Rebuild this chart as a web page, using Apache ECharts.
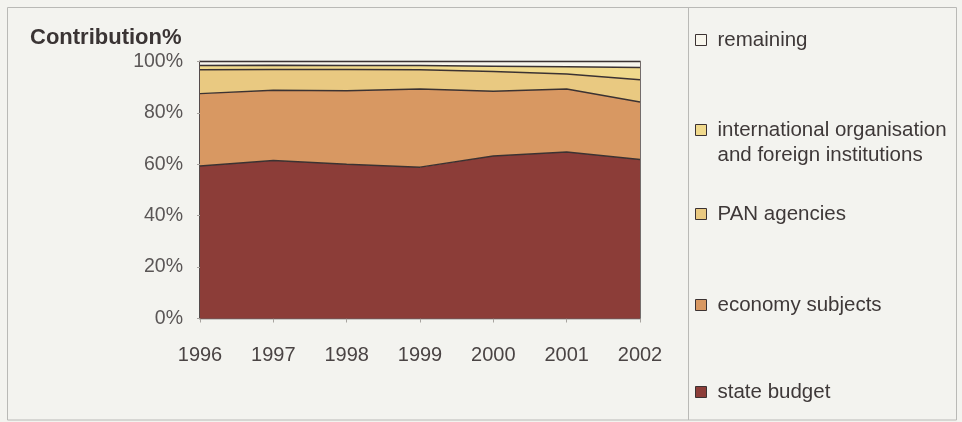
<!DOCTYPE html>
<html>
<head>
<meta charset="utf-8">
<script src="https://cdn.jsdelivr.net/npm/echarts@6/dist/echarts.min.js"></script>
<style>
  html, body { margin: 0; padding: 0; background: #f3f3ef; }
  #chart { width: 962px; height: 422px; }
</style>
</head>
<body>
<div id="chart"></div>
<script>
// Funding structure by source, share of total (%)
const years = ['1996', '1997', '1998', '1999', '2000', '2001', '2002'];
const stateBudget = [59.3, 61.5, 60.0, 58.9, 63.2, 64.8, 61.9];
const economySubjects = [28.2, 27.3, 28.6, 30.4, 25.2, 24.5, 22.3];
const panAgencies = [9.3, 8.1, 8.3, 7.5, 7.7, 5.8, 8.7];
const internationalOrg = [1.6, 1.6, 1.5, 1.6, 2.1, 2.9, 4.8];
const remaining = [1.6, 1.5, 1.6, 1.6, 1.8, 2.0, 2.3];
const yTicks = [0, 20, 40, 60, 80, 100];

const FONT = '"Liberation Sans", Arial, sans-serif';
const EDGE = '#3b3232';
const INTL = 'international organisation and foreign institutions';

const colors = {
  'state budget': '#8c3d38',
  'economy subjects': '#d89862',
  'PAN agencies': '#e9c981',
  [INTL]: '#f0d98c',
  'remaining': '#f7f5ec'
};

const layers = [
  ['state budget', stateBudget],
  ['economy subjects', economySubjects],
  ['PAN agencies', panAgencies],
  [INTL, internationalOrg],
  ['remaining', remaining]
];

const series = layers.map(([name, data]) => ({
  name: name,
  type: 'line',
  stack: 'share',
  data: data,
  symbol: 'none',
  lineStyle: { color: EDGE, width: 1.5 },
  itemStyle: { color: colors[name], borderColor: EDGE, borderWidth: 1 },
  areaStyle: { color: colors[name], opacity: 1 },
  emphasis: { disabled: true }
}));

function legendItem(name, top) {
  return {
    data: [name],
    left: 695,
    top: top,
    orient: 'vertical',
    padding: 0,
    icon: 'rect',
    itemWidth: 11,
    itemHeight: 11,
    selectedMode: false,
    itemStyle: { borderColor: EDGE, borderWidth: 1 },
    // the long label wraps; a blank first line keeps the swatch beside its first line
    formatter: n => n === INTL
      ? '\u00a0\ninternational organisation\nand foreign institutions' : n,
    textStyle: {
      fontFamily: FONT, fontSize: 20.5, color: '#3e3838',
      lineHeight: 25, padding: [0, 0, 0, 6]
    }
  };
}

const chart = echarts.init(document.getElementById('chart'), null, { renderer: 'canvas' });
chart.setOption({
  backgroundColor: '#f3f3ef',
  animation: false,
  title: {
    text: 'Contribution%',
    left: 30,
    top: 27,
    padding: 0,
    textStyle: { fontFamily: FONT, fontSize: 22, fontWeight: 'bold', color: '#3a3434' }
  },
  graphic: [
    { type: 'rect', shape: { x: 7.5, y: 7.5, width: 949, height: 412.5 },
      style: { fill: 'none', stroke: '#b9b9b6', lineWidth: 1 }, silent: true },
    { type: 'line', shape: { x1: 688.5, y1: 7.5, x2: 688.5, y2: 420 },
      style: { stroke: '#b9b9b6', lineWidth: 1 }, silent: true }
  ],
  legend: [
    legendItem('remaining', 27.5),
    legendItem(INTL, 92.5),
    legendItem('PAN agencies', 201.5),
    legendItem('economy subjects', 292.5),
    legendItem('state budget', 379.5)
  ],
  grid: {
    left: 200, right: 322, top: 61.5, bottom: 103.5,
    show: true, borderColor: '#4a4040', borderWidth: 1.5, backgroundColor: 'transparent'
  },
  xAxis: {
    type: 'category',
    data: years,
    boundaryGap: false,
    axisLine: { show: true, lineStyle: { color: '#6a6262', width: 1 } },
    axisTick: { show: true, length: 4, lineStyle: { color: '#a8a4a0' } },
    axisLabel: { fontFamily: FONT, fontSize: 20, color: '#4a4444', margin: 27 },
    splitLine: { show: false }
  },
  yAxis: {
    type: 'value',
    min: yTicks[0],
    max: yTicks[yTicks.length - 1],
    interval: yTicks[1] - yTicks[0],
    axisLine: { show: true, lineStyle: { color: '#4a4040', width: 1.5 } },
    axisTick: { show: true, length: 3, lineStyle: { color: '#a8a4a0' } },
    axisLabel: { fontFamily: FONT, fontSize: 19.5, color: '#5a5656', margin: 17, formatter: '{value}%' },
    splitLine: { show: false }
  },
  series: series
});
</script>
</body>
</html>
